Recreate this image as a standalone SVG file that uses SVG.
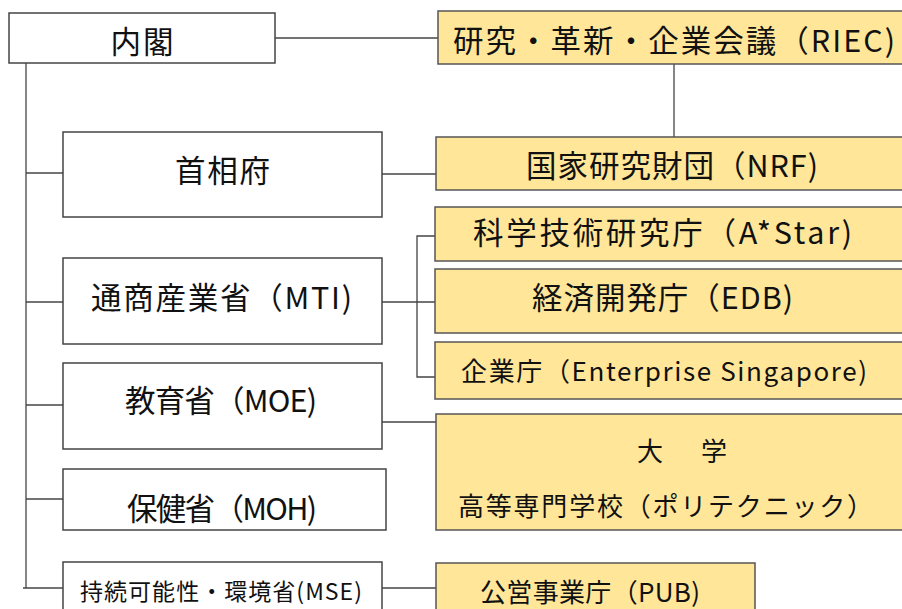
<svg xmlns="http://www.w3.org/2000/svg" width="902" height="609" viewBox="0 0 902 609">
<style>
.w{fill:#ffffff;stroke:#444;stroke-width:1.5}
.y{fill:#ffe699;stroke:#555;stroke-width:1.5}
.c{fill:none;stroke:#444;stroke-width:1.3}
text{font-family:"Noto Sans CJK JP","Noto Sans",sans-serif;fill:#111}
.t30{font-size:30.5px}
.t26{font-size:26px}
.t23{font-size:23px}
</style>
<g id="connectors">
<line class="c" x1="275" y1="38" x2="438" y2="38"/>
<line class="c" x1="674" y1="64" x2="674" y2="137"/>
<line class="c" x1="26" y1="63" x2="26" y2="588"/>
<line class="c" x1="23" y1="588" x2="63" y2="588"/>
<line class="c" x1="26" y1="173" x2="63" y2="173"/>
<line class="c" x1="26" y1="302" x2="63" y2="302"/>
<line class="c" x1="26" y1="405" x2="63" y2="405"/>
<line class="c" x1="26" y1="499" x2="63" y2="499"/>
<line class="c" x1="382" y1="174" x2="436" y2="174"/>
<line class="c" x1="382" y1="302" x2="435" y2="302"/>
<polyline class="c" points="435,236 417,236 417,377 435,377"/>
<line class="c" x1="382" y1="422" x2="436" y2="422"/>
<line class="c" x1="382" y1="588" x2="436" y2="588"/>
</g>
<g id="cabinet"><rect class="w" x="9" y="13" width="266" height="50"/><text class="t30" x="142" y="53" text-anchor="middle" textLength="63">内閣</text></g>
<g id="riec"><rect class="y" x="438" y="11" width="470" height="53"/><text class="t30" x="453" y="52" textLength="442">研究・革新・企業会議（RIEC)</text></g>
<g id="pmo"><rect class="w" x="63" y="132" width="319" height="85"/><text class="t30" x="175" y="182" textLength="95">首相府</text></g>
<g id="nrf"><rect class="y" x="436" y="137" width="472" height="53"/><text class="t30" x="526" y="177" textLength="292">国家研究財団（NRF)</text></g>
<g id="mti"><rect class="w" x="63" y="258" width="319" height="86"/><text class="t30" x="91" y="309" textLength="261">通商産業省（MTI)</text></g>
<g id="astar"><rect class="y" x="435" y="207" width="473" height="54"/><text class="t30" x="473" y="244" textLength="379">科学技術研究庁（A*Star)</text></g>
<g id="edb"><rect class="y" x="435" y="269" width="473" height="64"/><text class="t30" x="532" y="309" textLength="261">経済開発庁（EDB)</text></g>
<g id="esg"><rect class="y" x="435" y="342" width="473" height="57"/><text class="t26" x="461" y="381" textLength="406">企業庁（Enterprise Singapore)</text></g>
<g id="moe"><rect class="w" x="63" y="363" width="319" height="86"/><text class="t30" x="125" y="412" textLength="192">教育省（MOE)</text></g>
<g id="univ"><rect class="y" x="436" y="414" width="472" height="116"/><text class="t26" x="637" y="461" textLength="90">大　学</text><text class="t26" x="458" y="516" textLength="415">高等専門学校（ポリテクニック）</text></g>
<g id="moh"><rect class="w" x="63" y="469" width="323" height="61"/><text class="t30" x="127" y="520" textLength="190">保健省（MOH)</text></g>
<g id="mse"><rect class="w" x="63" y="562" width="319" height="60"/><text class="t23" x="80" y="600" textLength="282">持続可能性・環境省(MSE)</text></g>
<g id="pub"><rect class="y" x="436" y="563" width="319" height="60"/><text class="t26" x="480" y="602" textLength="220">公営事業庁（PUB)</text></g>
</svg>
